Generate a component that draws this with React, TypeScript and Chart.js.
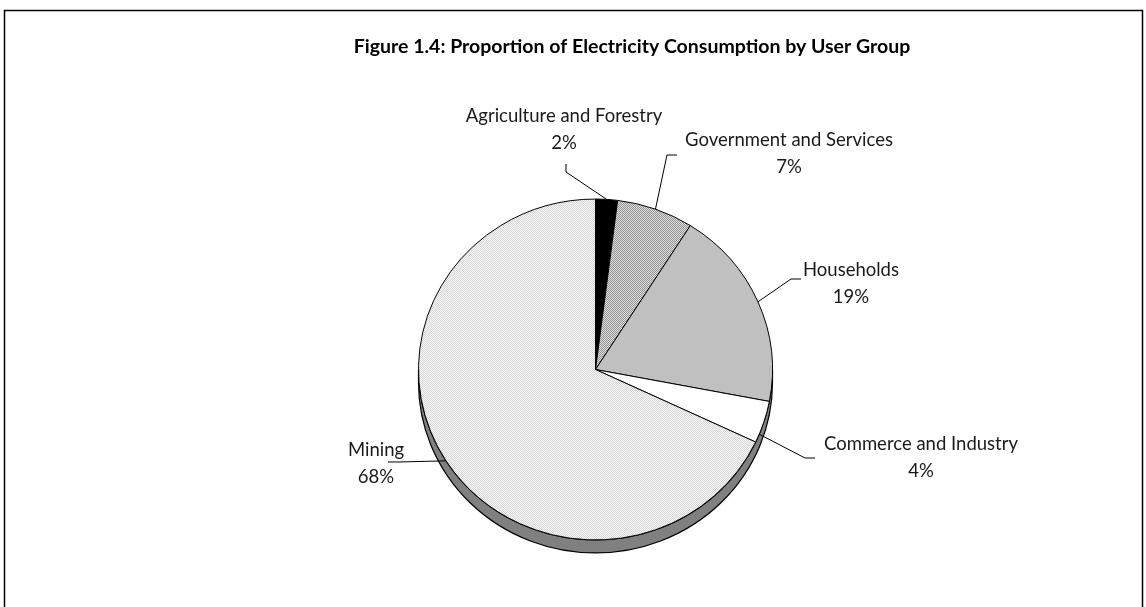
import { useEffect, useRef } from "react";
import { Chart, registerables } from "chart.js";

Chart.register(...registerables);

const titleText = "Figure 1.4: Proportion of Electricity Consumption by User Group";
const categories = [
  "Agriculture and Forestry",
  "Government and Services",
  "Households",
  "Commerce and Industry",
  "Mining",
];
const shares = [2, 7, 19, 4, 68];
const percentLabels = ["2%", "7%", "19%", "4%", "68%"];

// annotation placement relative to the pie centre (px)
const labelLayout = [
  { tx: -31.5, ty: -253.5, p0: [-29.5, -205.5], p1: [-29.5, -197.5], frac: 0.5 },
  { tx: 193.5, ty: -229.5, p0: [81.5, -214.5], p1: [71.5, -214.5], frac: 0.5 },
  { tx: 255.5, ty: -99.5, p0: [205.5, -90.5], p1: [195.5, -90.5], frac: 0.5 },
  { tx: 325.5, ty: 74.5, p0: [219.5, 88.5], p1: [209.5, 88.5], frac: 0.8 },
  { tx: -219.5, ty: 80.5, p0: [-207.5, 92.5], p1: [-197.5, 92.5], frac: 0.5 },
];

const SQUASH = 0.963;
const DEPTH = 13;

function makePattern(a: string, b: string): CanvasPattern | null {
  const c = document.createElement("canvas");
  c.width = 2;
  c.height = 2;
  const g = c.getContext("2d");
  if (!g) return null;
  g.fillStyle = b;
  g.fillRect(0, 0, 2, 2);
  g.fillStyle = a;
  g.fillRect(0, 0, 1, 1);
  g.fillRect(1, 1, 1, 1);
  return g.createPattern(c, "repeat");
}

function makePie3d(patterns: (CanvasPattern | null)[]) {
  return {
    id: "pie3d",
    beforeDatasetsDraw(chart: any) {
      const arc = chart.getDatasetMeta(0).data[0] as any;
      if (!arc) return;
      const { x, y, outerRadius: r } = arc;
      const ctx = chart.ctx as CanvasRenderingContext2D;
      ctx.save();
      ctx.translate(x, y);
      ctx.scale(1, SQUASH);
      ctx.translate(-x, -y);
      // keep pattern pixels aligned with device pixels under the squash
      const off = (1 - SQUASH) * y;
      const t = -(off - Math.round(off)) / SQUASH;
      patterns.forEach((p) => {
        if (p && (p as any).setTransform) {
          p.setTransform(new DOMMatrix([1, 0, 0, 1 / SQUASH, 0, t]));
        }
      });
      ctx.imageSmoothingEnabled = false;
      const d = DEPTH / SQUASH;
      ctx.beginPath();
      ctx.moveTo(x - r, y);
      ctx.lineTo(x - r, y + d);
      ctx.arc(x, y + d, r, Math.PI, 0, true);
      ctx.lineTo(x + r, y);
      ctx.arc(x, y, r, 0, Math.PI, false);
      ctx.closePath();
      ctx.fillStyle = "#808080";
      ctx.fill();
      ctx.lineWidth = 1.2;
      ctx.strokeStyle = "#000";
      ctx.stroke();
    },
    afterDatasetsDraw(chart: any) {
      chart.ctx.restore();
    },
    afterDraw(chart: any) {
      const ctx = chart.ctx as CanvasRenderingContext2D;
      const meta = chart.getDatasetMeta(0);
      const first = meta.data[0] as any;
      if (!first) return;
      const cx = first.x;
      const cy = first.y;
      const r = first.outerRadius;

      ctx.save();
      // frame
      ctx.strokeStyle = "#000";
      ctx.lineWidth = 1.5;
      ctx.beginPath();
      ctx.moveTo(4.5, 607);
      ctx.lineTo(4.5, 10.5);
      ctx.lineTo(1142.5, 10.5);
      ctx.lineTo(1142.5, 607);
      ctx.stroke();

      // title
      ctx.fillStyle = "#000";
      ctx.font = "bold 19.5px Lato";
      ctx.textAlign = "center";
      ctx.textBaseline = "middle";
      ctx.fillText(titleText, 632, 47);

      // labels and leader lines
      ctx.font = "18.5px Lato";
      ctx.fillStyle = "#1a1a1a";
      ctx.lineWidth = 1;
      meta.data.forEach((el: any, i: number) => {
        const L = labelLayout[i];
        const a = el.startAngle + (el.endAngle - el.startAngle) * L.frac;
        const ex = cx + r * Math.cos(a);
        const ey = cy + r * SQUASH * Math.sin(a);
        ctx.beginPath();
        ctx.moveTo(cx + L.p0[0], cy + L.p0[1]);
        ctx.lineTo(cx + L.p1[0], cy + L.p1[1]);
        ctx.lineTo(ex, ey);
        ctx.stroke();
        ctx.fillText(categories[i], cx + L.tx, cy + L.ty);
        ctx.fillText(percentLabels[i], cx + L.tx, cy + L.ty + 27);
      });
      ctx.restore();
    },
  };
}

export default function App() {
  const ref = useRef<HTMLCanvasElement | null>(null);
  useEffect(() => {
    document.body.style.margin = "0";
    const canvas = ref.current;
    if (!canvas) return;
    const govPattern = makePattern("#939393", "#dedede");
    const miningPattern = makePattern("#d6d6d6", "#f7f7f7");
    const chart = new Chart(canvas, {
      type: "pie",
      data: {
        labels: categories,
        datasets: [
          {
            data: shares,
            backgroundColor: [
              "#000000",
              govPattern || "#b8b8b8",
              "#c0c0c0",
              "#ffffff",
              miningPattern || "#e6e6e6",
            ] as any,
            borderColor: "#000",
            borderWidth: 1,
          },
        ],
      },
      options: {
        responsive: false,
        animation: false,
        devicePixelRatio: 1,
        radius: 177,
        layout: { padding: { left: 345, right: 300, top: 172, bottom: 40 } },
        plugins: {
          legend: { display: false },
          tooltip: { enabled: false },
          title: { display: false },
        },
      } as any,
      plugins: [makePie3d([govPattern, miningPattern])],
    });
    return () => chart.destroy();
  }, []);
  return (
    <div style={{ width: 1146, height: 607, background: "#fff" }}>
      <canvas ref={ref} width={1146} height={607} style={{ display: "block" }} />
    </div>
  );
}
